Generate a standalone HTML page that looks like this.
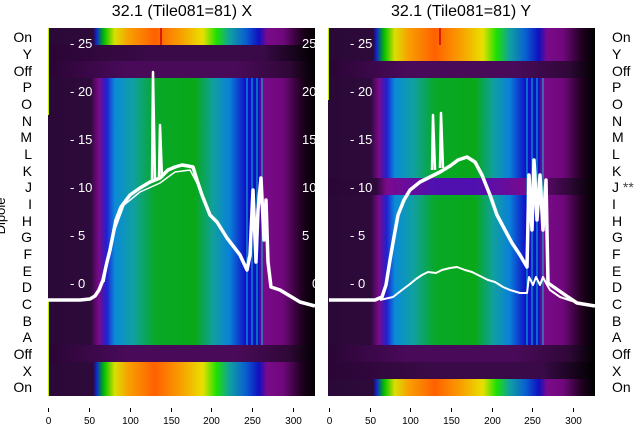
<!DOCTYPE html>
<html><head><meta charset="utf-8"><style>
html,body{margin:0;padding:0;background:#fff;}
svg{display:block;font-family:"Liberation Sans","DejaVu Sans",sans-serif;}
</style></head><body>
<svg width="640" height="440" viewBox="0 0 640 440" xmlns="http://www.w3.org/2000/svg">
<defs>
<linearGradient id="gn" x1="0" x2="1" y1="0" y2="0">
<stop offset="0" stop-color="#2a0838"/><stop offset="0.16" stop-color="#2d0a3a"/>
<stop offset="0.19" stop-color="#7a0a8c"/><stop offset="0.22" stop-color="#2020d0"/>
<stop offset="0.25" stop-color="#0a8ad8"/><stop offset="0.32" stop-color="#10a0a0"/>
<stop offset="0.40" stop-color="#08a828"/><stop offset="0.55" stop-color="#08a818"/>
<stop offset="0.62" stop-color="#10a0a0"/><stop offset="0.68" stop-color="#0a80d8"/>
<stop offset="0.74" stop-color="#1010c8"/><stop offset="0.79" stop-color="#1010c0"/>
<stop offset="0.80" stop-color="#7a0a8c"/><stop offset="0.88" stop-color="#70087c"/>
<stop offset="0.95" stop-color="#200020"/><stop offset="1" stop-color="#000"/>
</linearGradient>
<linearGradient id="gr" x1="0" x2="1" y1="0" y2="0">
<stop offset="0" stop-color="#2a0838"/><stop offset="0.17" stop-color="#2d0a3a"/>
<stop offset="0.18" stop-color="#1020d0"/><stop offset="0.21" stop-color="#00c000"/>
<stop offset="0.25" stop-color="#d8e000"/><stop offset="0.30" stop-color="#f8a000"/>
<stop offset="0.40" stop-color="#ff6000"/><stop offset="0.50" stop-color="#f8a000"/>
<stop offset="0.58" stop-color="#e8e000"/><stop offset="0.63" stop-color="#20e000"/>
<stop offset="0.68" stop-color="#10a0a0"/><stop offset="0.74" stop-color="#0a60d0"/>
<stop offset="0.79" stop-color="#1010c0"/><stop offset="0.82" stop-color="#7a0a8c"/>
<stop offset="0.88" stop-color="#70087c"/><stop offset="0.95" stop-color="#200020"/>
<stop offset="1" stop-color="#000"/>
</linearGradient>
<linearGradient id="gd" x1="0" x2="1" y1="0" y2="0">
<stop offset="0" stop-color="#2a0535"/><stop offset="0.4" stop-color="#3a0a48"/>
<stop offset="0.8" stop-color="#3a0a48"/><stop offset="1" stop-color="#000"/>
</linearGradient>
<linearGradient id="go" x1="0" x2="1" y1="0" y2="0">
<stop offset="0" stop-color="#2a0535"/><stop offset="0.3" stop-color="#4a0a5a"/>
<stop offset="0.7" stop-color="#4a0a5a"/><stop offset="0.9" stop-color="#300838"/><stop offset="1" stop-color="#000"/>
</linearGradient>
<linearGradient id="gj" x1="0" x2="1" y1="0" y2="0">
<stop offset="0" stop-color="#2a0535"/><stop offset="0.18" stop-color="#2d0a3a"/>
<stop offset="0.22" stop-color="#7a0a8c"/><stop offset="0.40" stop-color="#5010b0"/>
<stop offset="0.55" stop-color="#5010b0"/><stop offset="0.75" stop-color="#7a0a8c"/>
<stop offset="0.9" stop-color="#300838"/><stop offset="1" stop-color="#000"/>
</linearGradient>
</defs>

<!-- LEFT PANEL -->
<g>
<rect x="48" y="28" width="267" height="17" fill="url(#gr)"/>
<rect x="48" y="45" width="267" height="16" fill="url(#gd)"/>
<rect x="48" y="61" width="267" height="17" fill="url(#go)"/>
<rect x="48" y="78" width="267" height="267" fill="url(#gn)"/>
<rect x="48" y="345" width="267" height="17" fill="url(#go)"/>
<rect x="48" y="362" width="267" height="34" fill="url(#gr)"/>
<g fill="none" stroke="#06c0d0" stroke-width="1">
<line x1="247" y1="78" x2="247" y2="345"/><line x1="252" y1="78" x2="252" y2="345"/>
<line x1="257" y1="78" x2="257" y2="345"/><line x1="262" y1="78" x2="262" y2="345"/>
</g>
<line x1="161" y1="28" x2="161" y2="45" stroke="#d00000" stroke-width="1.5"/>
<line x1="48.5" y1="28" x2="48.5" y2="115" stroke="#c0f000" stroke-width="1"/>
<line x1="48.5" y1="300" x2="48.5" y2="396" stroke="#c0f000" stroke-width="1"/>
<g fill="#fff" font-size="13">
<text x="70" y="48">- 25</text><text x="70" y="96">- 20</text><text x="70" y="144">- 15</text>
<text x="70" y="192">- 10</text><text x="70" y="240">- 5</text><text x="70" y="288">- 0</text>
<text x="302" y="48">25</text><text x="302" y="96">20</text><text x="302" y="144">15</text>
<text x="302" y="192">10</text><text x="302" y="240">5</text><text x="312" y="288">0</text>
</g>
<g fill="none" stroke="#fff" stroke-linejoin="round">
<polyline stroke-width="3.5" points="48,300 80,300 90,299 95,296 99,290 103,280 107,262 110,250 113,235 116,220 121,207 130,195 140,188 150,182 160,178 168,170 175,167 182,165 188,166 193,167 197,180 202,195 210,215 217,222 227,238 240,255 247,270 250,255 253,190 256,262 258,210 261,178 264,240 266,200 268,262 271,287 280,290 290,296 300,302 315,306"/>
<polyline stroke-width="2.5" points="152,180 153,72 155,180"/>
<polyline stroke-width="2.5" points="159,178 160,125 162,178"/>
<polyline stroke-width="1.5" points="104,282 108,258 114,232 124,205 140,192 160,183 175,172 190,170 198,185"/>
</g>
</g>

<!-- RIGHT PANEL -->
<g>
<rect x="328" y="28" width="267" height="33" fill="url(#gr)"/>
<rect x="328" y="61" width="267" height="17" fill="url(#go)"/>
<rect x="328" y="78" width="267" height="100" fill="url(#gn)"/>
<rect x="328" y="178" width="267" height="17" fill="url(#gj)"/>
<rect x="328" y="195" width="267" height="150" fill="url(#gn)"/>
<rect x="328" y="345" width="267" height="17" fill="url(#go)"/>
<rect x="328" y="362" width="267" height="17" fill="url(#gd)"/>
<rect x="328" y="379" width="267" height="17" fill="url(#gr)"/>
<g fill="none" stroke="#06c0d0" stroke-width="1">
<line x1="527" y1="78" x2="527" y2="345"/><line x1="532" y1="78" x2="532" y2="345"/>
<line x1="537" y1="78" x2="537" y2="345"/><line x1="543" y1="78" x2="543" y2="345"/>
</g>
<line x1="440" y1="28" x2="440" y2="45" stroke="#d00000" stroke-width="1.5"/>
<line x1="328.5" y1="28" x2="328.5" y2="100" stroke="#c0f000" stroke-width="1"/>
<g fill="#fff" font-size="13">
<text x="350" y="48">- 25</text><text x="350" y="96">- 20</text><text x="350" y="144">- 15</text>
<text x="350" y="192">- 10</text><text x="350" y="240">- 5</text><text x="350" y="288">- 0</text>
</g>
<g fill="none" stroke="#fff" stroke-linejoin="round">
<polyline stroke-width="3.5" points="329,300 375,300 382,297 386,285 390,260 394,237 398,215 404,200 410,190 420,182 430,177 440,172 450,166 458,160 467,157 475,162 482,175 490,195 497,215 505,230 512,243 520,255 527,267 529,175 532,230 534,160 537,220 540,175 543,230 546,180 548,283 558,290 568,297 577,303 595,306"/>
<polyline stroke-width="2.5" points="432,170 433,115 435,170"/>
<polyline stroke-width="2.5" points="440,168 441,113 443,168"/>
<polyline stroke-width="2" points="380,300 393,297 402,290 410,284 416,279 422,275 428,272 436,273 442,270 450,268 457,267 465,270 472,272 480,276 488,280 495,282 503,287 510,290 520,293 527,293 529,277 533,285 536,277 540,285 543,277 546,283 550,290 560,297 572,301"/>
</g>
</g>

<!-- titles -->
<g fill="#000" font-size="16" text-anchor="middle">
<text x="182" y="16">32.1 (Tile081=81) X</text>
<text x="461" y="16">32.1 (Tile081=81) Y</text>
</g>
<!-- row labels -->
<g fill="#000" font-size="14">
<g text-anchor="end">
<text x="32" y="42">On</text><text x="32" y="59">Y</text><text x="32" y="76">Off</text>
<text x="32" y="92">P</text><text x="32" y="109">O</text><text x="32" y="126">N</text>
<text x="32" y="142">M</text><text x="32" y="159">L</text><text x="32" y="176">K</text>
<text x="32" y="192">J</text><text x="32" y="209">I</text><text x="32" y="226">H</text>
<text x="32" y="242">G</text><text x="32" y="259">F</text><text x="32" y="276">E</text>
<text x="32" y="292">D</text><text x="32" y="309">C</text><text x="32" y="326">B</text>
<text x="32" y="342">A</text><text x="32" y="359">Off</text><text x="32" y="376">X</text>
<text x="32" y="392">On</text>
</g>
<text x="612" y="42">On</text><text x="612" y="59">Y</text><text x="612" y="76">Off</text>
<text x="612" y="92">P</text><text x="612" y="109">O</text><text x="612" y="126">N</text>
<text x="612" y="142">M</text><text x="612" y="159">L</text><text x="612" y="176">K</text>
<text x="612" y="192">J <tspan fill="#444">**</tspan></text><text x="612" y="209">I</text><text x="612" y="226">H</text>
<text x="612" y="242">G</text><text x="612" y="259">F</text><text x="612" y="276">E</text>
<text x="612" y="292">D</text><text x="612" y="309">C</text><text x="612" y="326">B</text>
<text x="612" y="342">A</text><text x="612" y="359">Off</text><text x="612" y="376">X</text>
<text x="612" y="392">On</text>
<text transform="translate(5,216) rotate(-90)" text-anchor="middle" font-size="13">Dipole</text>
</g>
<!-- x ticks -->
<g stroke="#000" stroke-width="1">
<line x1="48.5" y1="408" x2="48.5" y2="412"/><line x1="89.5" y1="408" x2="89.5" y2="412"/>
<line x1="130.5" y1="408" x2="130.5" y2="412"/><line x1="171.5" y1="408" x2="171.5" y2="412"/>
<line x1="211.5" y1="408" x2="211.5" y2="412"/><line x1="252.5" y1="408" x2="252.5" y2="412"/>
<line x1="293.5" y1="408" x2="293.5" y2="412"/>
<line x1="329.5" y1="408" x2="329.5" y2="412"/><line x1="370.5" y1="408" x2="370.5" y2="412"/>
<line x1="410.5" y1="408" x2="410.5" y2="412"/><line x1="451.5" y1="408" x2="451.5" y2="412"/>
<line x1="492.5" y1="408" x2="492.5" y2="412"/><line x1="532.5" y1="408" x2="532.5" y2="412"/>
<line x1="573.5" y1="408" x2="573.5" y2="412"/>
</g>
<g fill="#000" font-size="10" text-anchor="middle">
<text x="48.5" y="424">0</text><text x="89.5" y="424">50</text><text x="130.5" y="424">100</text>
<text x="171.5" y="424">150</text><text x="211.5" y="424">200</text><text x="252.5" y="424">250</text>
<text x="293.5" y="424">300</text>
<text x="329.5" y="424">0</text><text x="370.5" y="424">50</text><text x="410.5" y="424">100</text>
<text x="451.5" y="424">150</text><text x="492.5" y="424">200</text><text x="532.5" y="424">250</text>
<text x="573.5" y="424">300</text>
</g>
</svg>
</body></html>
